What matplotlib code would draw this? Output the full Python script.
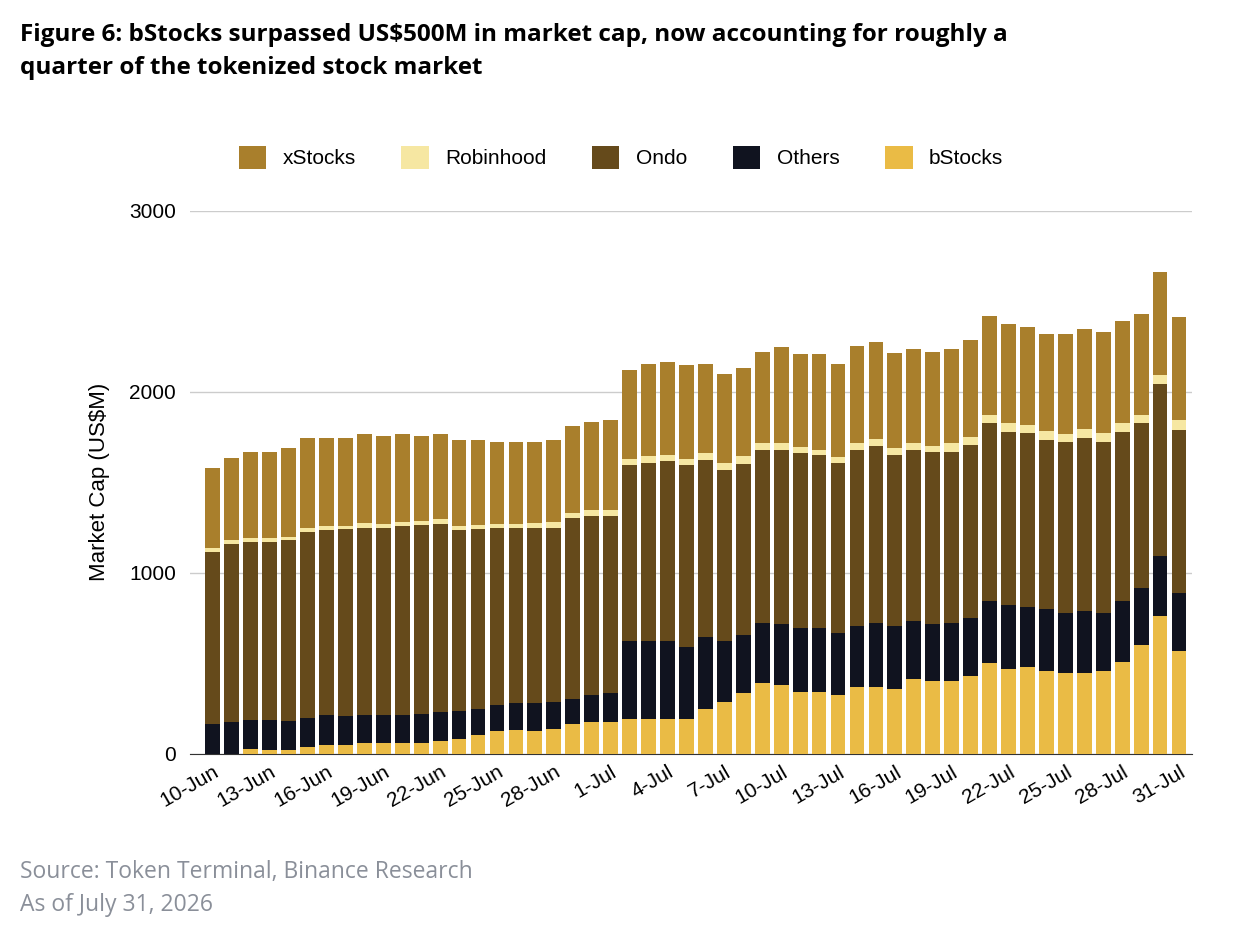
import numpy as np
import pandas as pd
import matplotlib
matplotlib.use("Agg")
import matplotlib.pyplot as plt

dates = pd.date_range("2026-06-10", "2026-07-31", freq="D")
labels = [f"{d.day}-{d.strftime('%b')}" for d in dates]

# cumulative tops (US$M)
bstocks = [0, 0, 30, 20, 20, 40, 50, 50, 60, 60, 60, 60, 70, 85, 105, 125, 135, 125, 140, 165,
           175, 175, 195, 195, 195, 195, 250, 285, 335, 390, 380, 345, 345, 325, 370, 370, 360,
           415, 405, 405, 430, 500, 470, 480, 460, 445, 445, 460, 510, 600, 760, 570]
others_top = [165, 175, 185, 185, 180, 200, 215, 210, 215, 215, 215, 220, 230, 240, 250, 270, 280,
              280, 285, 305, 325, 335, 625, 625, 625, 590, 645, 625, 655, 725, 715, 695, 695, 670,
              705, 725, 705, 735, 715, 725, 750, 845, 825, 810, 800, 780, 790, 780, 845, 915, 1095, 890]
ondo_top = [1115, 1160, 1170, 1170, 1180, 1225, 1235, 1240, 1250, 1250, 1260, 1265, 1270, 1235,
            1240, 1245, 1245, 1250, 1250, 1305, 1315, 1315, 1595, 1605, 1615, 1595, 1625, 1570,
            1600, 1680, 1680, 1660, 1650, 1605, 1680, 1700, 1650, 1680, 1665, 1670, 1705, 1825,
            1780, 1770, 1735, 1720, 1745, 1725, 1780, 1825, 2045, 1790]
robinhood_top = [1140, 1180, 1190, 1190, 1200, 1250, 1260, 1260, 1275, 1270, 1280, 1285, 1295,
                 1260, 1265, 1270, 1270, 1275, 1280, 1330, 1345, 1345, 1630, 1645, 1650, 1630,
                 1660, 1605, 1645, 1715, 1715, 1695, 1680, 1640, 1715, 1740, 1690, 1715, 1700,
                 1715, 1750, 1870, 1825, 1815, 1785, 1765, 1795, 1770, 1830, 1870, 2090, 1845]
total = [1580, 1635, 1670, 1670, 1690, 1745, 1745, 1745, 1765, 1755, 1765, 1755, 1765, 1735, 1735,
         1720, 1720, 1725, 1735, 1810, 1835, 1845, 2120, 2155, 2165, 2145, 2155, 2100, 2130, 2220,
         2245, 2210, 2210, 2155, 2255, 2275, 2215, 2235, 2220, 2235, 2285, 2420, 2375, 2355, 2320,
         2320, 2345, 2330, 2390, 2430, 2660, 2410]

b = np.array(bstocks)
series = {
    "bStocks": b,
    "Others": np.array(others_top) - b,
    "Ondo": np.array(ondo_top) - np.array(others_top),
    "Robinhood": np.array(robinhood_top) - np.array(ondo_top),
    "xStocks": np.array(total) - np.array(robinhood_top),
}
colors = {"bStocks": "#EABB45", "Others": "#10131F", "Ondo": "#654A1B",
          "Robinhood": "#F6E7A2", "xStocks": "#A97F2C"}

plt.rcParams["font.family"] = ["Liberation Sans", "DejaVu Sans"]
fig = plt.figure(figsize=(12.42, 9.32), dpi=100)
ax = fig.add_axes([0.153, 0.191, 0.807, 0.583])

x = np.arange(len(dates))
bottom = np.zeros(len(x))
handles = {}
for name in ["bStocks", "Others", "Ondo", "Robinhood", "xStocks"]:
    handles[name] = ax.bar(x, series[name], bottom=bottom, width=0.78,
                           color=colors[name], label=name, zorder=3)
    bottom += series[name]

ax.set_ylim(0, 3000)
ax.set_xlim(-1.2, len(x) - 0.3)
ax.set_yticks([0, 1000, 2000, 3000])
ax.tick_params(axis="y", labelsize=15, length=0, pad=10)
ax.grid(axis="y", color="#cccccc", lw=1, zorder=0)
for s in ["top", "right", "left"]:
    ax.spines[s].set_visible(False)
ax.spines["bottom"].set_color("#333333")
ax.set_xticks(x[::3])
ax.set_xticklabels(labels[::3], rotation=30, ha="right", rotation_mode="anchor", fontsize=15)
ax.tick_params(axis="x", length=0, pad=6)
ax.set_ylabel("Market Cap (US$M)", fontsize=16, labelpad=14)

order = ["xStocks", "Robinhood", "Ondo", "Others", "bStocks"]
fig.legend([handles[n] for n in order], order, loc="center", bbox_to_anchor=(0.5, 0.831),
           ncol=5, frameon=False, fontsize=15, handlelength=1.3, handleheight=1.3,
           columnspacing=2.2, handletextpad=0.8)

fig.text(0.016, 0.975, "Figure 6: bStocks surpassed US$500M in market cap, now accounting for roughly a\n"
         "quarter of the tokenized stock market", fontsize=17.5, fontweight="bold",
         va="top", ha="left", linespacing=1.5, family=["Open Sans", "DejaVu Sans"])
fig.text(0.016, 0.058, "Source: Token Terminal, Binance Research", fontsize=16.5, color="#8a8f99",
         family=["Open Sans", "DejaVu Sans"])
fig.text(0.016, 0.022, "As of July 31, 2026", fontsize=16.5, color="#8a8f99",
         family=["Open Sans", "DejaVu Sans"])

fig.savefig("out.png", dpi=100)
